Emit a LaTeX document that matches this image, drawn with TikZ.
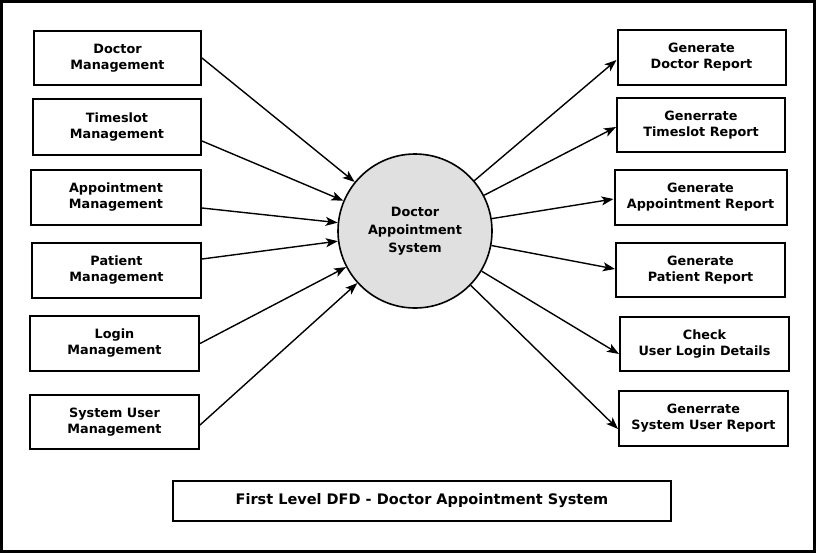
\documentclass[tikz,border=0pt]{standalone}
\usepackage{fontspec}
\setmainfont{DejaVu Sans}
\usetikzlibrary{arrows.meta}
\definecolor{procgray}{HTML}{E0E0E0}

\begin{document}
\begin{tikzpicture}[->,>={Stealth[length=12pt,width=9pt,inset=3pt]},x=1pt,y=-1pt,
                    line width=1.4pt]
  \tikzstyle{every node}=[font=\bfseries\fontsize{12.8}{16}\selectfont,align=center]
  \tikzstyle{entity}=[draw=black,line width=2pt,fill=white,minimum width=169pt,
                      minimum height=55pt,inner sep=0pt]
  \tikzstyle{process}=[circle,draw=black,line width=1.6pt,fill=procgray,
                       minimum size=154pt,inner sep=0pt,
                       font=\bfseries\fontsize{12.8}{18}\selectfont]

  \useasboundingbox (0,0) rectangle (818,555);
  \draw[-,line width=3pt] (1.5,1.5) rectangle (814,551);

  % the process
  \node[process] (sys) at (415,231) {Doctor\\Appointment\\System};

  % sources
  \node[entity,minimum width=167pt,minimum height=54pt] (doc) at (117.5,58)  {Doctor\\Management};
  \node[entity,minimum width=168pt,minimum height=56pt] (tim) at (117,127)   {Timeslot\\Management};
  \node[entity,minimum width=170pt]                     (app) at (116,197.5) {Appointment\\Management};
  \node[entity]                                         (pat) at (116.5,270.5) {Patient\\Management};
  \node[entity]                                         (log) at (114.5,343.5) {Login\\Management};
  \node[entity,minimum height=54pt]                     (usr) at (114.5,422) {System User\\Management};

  % reports
  \node[entity,minimum width=168pt]                     (rdoc) at (701.5,57.5) {Generate\\Doctor Report};
  \node[entity,minimum width=168pt,minimum height=54pt] (rtim) at (701,125)    {Generrate\\Timeslot Report};
  \node[entity,minimum width=172pt]                     (rapp) at (700.5,197.5) {Generate\\Appointment Report};
  \node[entity,minimum height=54pt]                     (rpat) at (700.5,270)  {Generate\\Patient Report};
  \node[entity,minimum height=54pt]                     (chk)  at (704.5,344)  {Check\\User Login Details};
  \node[entity]                                         (rusr) at (703.5,418.5) {Generrate\\System User Report};

  % caption
  \node[entity,minimum width=498pt,minimum height=40pt,
        font=\bfseries\fontsize{14.5}{17}\selectfont] (title) at (422,501)
        {First Level DFD - Doctor Appointment System};

  % data flows in
  \draw (doc.east)                 -- (sys);
  \draw ([yshift=-14pt]tim.east)   -- (sys);
  \draw ([yshift=-10.5pt]app.east) -- (sys);
  \draw ([yshift=11.5pt]pat.east)  -- (sys);
  \draw (log.east)                 -- (sys);
  \draw ([yshift=-3pt]usr.east)    -- (sys);

  % data flows out
  \draw (sys) -- ([yshift=-2.5pt]rdoc.west);
  \draw (sys) -- ([yshift=-2pt]rtim.west);
  \draw (sys) -- ([yshift=-1.5pt]rapp.west);
  \draw (sys) -- ([yshift=1pt]rpat.west);
  \draw (sys) -- ([yshift=-10pt]chk.west);
  \draw (sys) -- ([yshift=-10.5pt]rusr.west);
\end{tikzpicture}
\end{document}
